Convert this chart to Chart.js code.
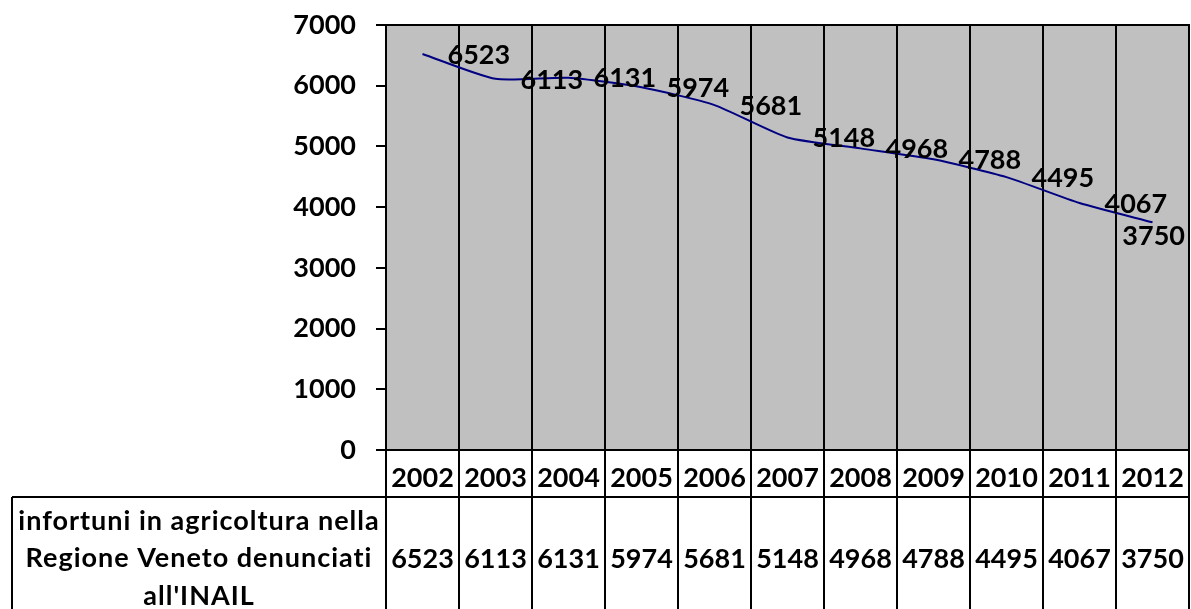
<!DOCTYPE html>
<html>
<head>
<meta charset="utf-8">
<script src="https://cdn.jsdelivr.net/npm/chart.js@4"></script>
<style>
  html, body { margin: 0; padding: 0; background: #fff; }
  #wrap { width: 1191px; height: 609px; position: relative; }
</style>
</head>
<body>
<div id="wrap"><canvas id="chart"></canvas></div>
<script>
const YEARS = ['2002', '2003', '2004', '2005', '2006', '2007', '2008', '2009', '2010', '2011', '2012'];
const INFORTUNI = [6523, 6113, 6131, 5974, 5681, 5148, 4968, 4788, 4495, 4067, 3750];
const SERIES_LABEL = ['infortuni in agricoltura nella', 'Regione Veneto denunciati', "all'INAIL"];
const Y_MIN = 0, Y_MAX = 7000, Y_STEP = 1000;

const FONT = "'Lato', 'Open Sans', sans-serif";
const BOLD = 'bold 27px ' + FONT;

// gray plot background + black frame
const plotFrame = {
  id: 'plotFrame',
  beforeDraw(chart) {
    const { ctx, chartArea: a } = chart;
    ctx.save();
    ctx.fillStyle = '#c0c0c0';
    ctx.fillRect(a.left, a.top, a.right - a.left, a.bottom - a.top);
    ctx.restore();
  },
  afterDraw(chart) {
    const { ctx, chartArea: a } = chart;
    ctx.save();
    ctx.strokeStyle = '#000';
    ctx.lineWidth = 2;
    ctx.strokeRect(a.left, a.top, a.right - a.left, a.bottom - a.top);
    ctx.restore();
  }
};

// point labels, placed to the right of each point (Excel style)
const pointLabels = {
  id: 'pointLabels',
  afterDatasetsDraw(chart) {
    const { ctx, chartArea: a } = chart;
    const meta = chart.getDatasetMeta(0);
    ctx.save();
    ctx.font = BOLD;
    ctx.fillStyle = '#000';
    ctx.textBaseline = 'middle';
    ctx.textAlign = 'left';
    meta.data.forEach((pt, i) => {
      const txt = String(INFORTUNI[i]);
      const w = ctx.measureText(txt).width;
      let x = pt.x + 25, y = pt.y + 1;
      if (x + w > a.right - 4) { x = a.right - 4 - w; y += 13; }
      ctx.fillText(txt, x, y);
    });
    ctx.restore();
  }
};

// data table under the x axis
const dataTable = {
  id: 'dataTable',
  afterDraw(chart) {
    const { ctx, chartArea: a } = chart;
    const xs = chart.scales.x;
    const half = (xs.getPixelForValue(1) - xs.getPixelForValue(0)) / 2;
    const bottom = chart.height;
    const rowTop = a.bottom + 47;
    const labelLeft = 12;
    ctx.save();
    ctx.strokeStyle = '#000';
    ctx.lineWidth = 2;
    ctx.beginPath();
    for (let i = 0; i <= YEARS.length; i++) {
      const x = i < YEARS.length ? xs.getPixelForValue(i) - half : a.right;
      ctx.moveTo(x, a.bottom);
      ctx.lineTo(x, bottom);
    }
    ctx.moveTo(labelLeft, rowTop);
    ctx.lineTo(a.right, rowTop);
    ctx.moveTo(labelLeft, rowTop);
    ctx.lineTo(labelLeft, bottom);
    ctx.stroke();

    ctx.fillStyle = '#000';
    ctx.font = BOLD;
    ctx.textAlign = 'center';
    ctx.textBaseline = 'middle';
    INFORTUNI.forEach((v, i) => ctx.fillText(String(v), xs.getPixelForValue(i), rowTop + 62));

    const cx = (labelLeft + a.left) / 2;
    ctx.letterSpacing = '1px';
    SERIES_LABEL.forEach((line, i) => ctx.fillText(line, cx, rowTop + 24 + i * 37.5, a.left - labelLeft - 12));
    ctx.restore();
  }
};

new Chart(document.getElementById('chart'), {
  type: 'line',
  data: {
    labels: YEARS,
    datasets: [{
      label: SERIES_LABEL.join(' '),
      data: INFORTUNI,
      borderColor: '#000080',
      borderWidth: 2,
      pointRadius: 0,
      tension: 0.2,
      fill: false,
    }],
  },
  options: {
    responsive: true,
    maintainAspectRatio: false,
    animation: false,
    layout: { padding: { top: 25, right: 2, left: 0, bottom: 0 } },
    plugins: {
      legend: { display: false },
      tooltip: { enabled: false },
    },
    scales: {
      x: {
        offset: true,
        afterFit(s) { s.height = 159; s.paddingLeft = 0; s.paddingRight = 0; },
        grid: { offset: true, color: '#000', lineWidth: 2, drawTicks: false },
        border: { color: '#000', width: 2 },
        ticks: { color: '#000', font: { family: FONT, size: 27, weight: 'bold' }, padding: 12, maxRotation: 0, autoSkip: false },
      },
      y: {
        min: Y_MIN,
        max: Y_MAX,
        afterFit(s) { s.width = 386; s.paddingTop = 0; s.paddingBottom = 0; },
        grid: { drawOnChartArea: false, color: '#000', lineWidth: 2, tickLength: 10 },
        border: { color: '#000', width: 2 },
        ticks: { stepSize: Y_STEP, color: '#000', font: { family: FONT, size: 27, weight: 'bold' }, padding: 20,
          callback: v => String(v) },
      },
    },
  },
  plugins: [plotFrame, pointLabels, dataTable],
});
</script>
</body>
</html>
